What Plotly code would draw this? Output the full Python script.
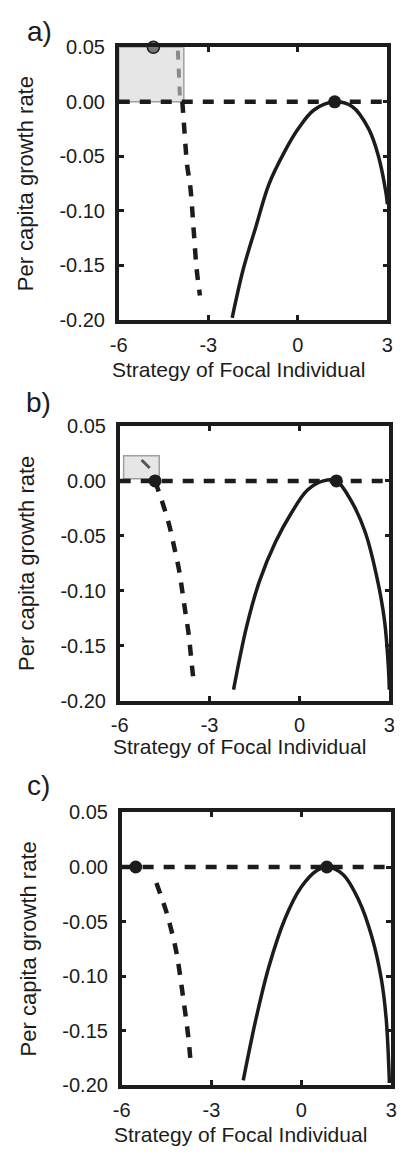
import plotly.graph_objects as go

# ---- data ----
x_range = [-6, 3]
y_range = [-0.20, 0.05]
x_ticks = [-6, -3, 0, 3]
y_ticks = [0.05, 0.0, -0.05, -0.10, -0.15, -0.20]
y_tick_text = ["0.05", "0.00", "-0.05", "-0.10", "-0.15", "-0.20"]
panel_labels = ["a)", "b)", "c)"]
x_title = "Strategy of Focal Individual"
y_title = "Per capita growth rate"

zero_x = [-6, 3]
zero_y = [0, 0]

a_solid_x = [-2.2, -1.83, -1.40, -0.97, -0.43, 0.0, 0.54, 1.235, 1.83, 2.37, 2.69, 2.96, 3.0]
a_solid_y = [-0.198, -0.1535, -0.114, -0.0756, -0.045, -0.0252, -0.0075, 0.0, -0.0045, -0.0246, -0.0487, -0.0846, -0.094]
a_edge_x = [-4.02, -4.0, -3.95]
a_edge_y = [0.047, 0.025, 0.004]
a_dash_x = [-3.87, -3.82, -3.71, -3.60, -3.49, -3.39, -3.28]
a_dash_y = [0.0, -0.0186, -0.0576, -0.0786, -0.1175, -0.1535, -0.1775]
a_mark_x = [1.235]
a_mark_y = [0.0]
a_gmark_x = [-4.84]
a_gmark_y = [0.05]
a_box = [-6, -3.82, 0.0, 0.05]

b_solid_x = [-2.2, -1.77, -1.34, -0.80, -0.27, 0.27, 0.80, 1.235, 1.77, 2.2, 2.57, 2.84, 2.97, 3.0]
b_solid_y = [-0.19, -0.1333, -0.0917, -0.0557, -0.0292, -0.0083, 0.0, 0.0, -0.0203, -0.047, -0.0857, -0.127, -0.17, -0.19]
b_dash_x = [-4.82, -4.55, -4.34, -4.18, -4.02, -3.91, -3.80, -3.70, -3.62, -3.54]
b_dash_y = [0.0, -0.0217, -0.041, -0.0604, -0.081, -0.1004, -0.121, -0.139, -0.16, -0.181]
b_mark_x = [-4.82, 1.235]
b_mark_y = [0.0, 0.0]
b_box = [-5.87, -4.68, 0.002, 0.023]
b_tick_x = [-5.27, -5.0]
b_tick_y = [0.019, 0.0117]

c_solid_x = [-1.94, -1.51, -1.08, -0.54, -0.01, 0.53, 0.85, 1.39, 1.92, 2.35, 2.67, 2.83, 2.94]
c_solid_y = [-0.1955, -0.1386, -0.091, -0.047, -0.0186, -0.003, 0.0, -0.0068, -0.0306, -0.0636, -0.1026, -0.1386, -0.198]
c_dash_x = [-4.84, -4.52, -4.34, -4.18, -4.06, -3.96, -3.86, -3.77, -3.70]
c_dash_y = [-0.0147, -0.04, -0.058, -0.077, -0.097, -0.117, -0.137, -0.157, -0.178]
c_mark_x = [-5.53, 0.85]
c_mark_y = [0.0, 0.0]

# ---- layout geometry (pixels) ----
W, H = 403, 1158
panels_px = [  # x0, x1, ytop, ybottom
    (114, 393, 37, 315),
    (115, 395, 423, 703),
    (117, 397, 817, 1095),
]
label_px = [(17, 21), (16, 399), (17, 790)]
xtitle_px = [(238, 365), (239, 750), (240, 1145)]

INK = "#1c1c1c"
FONT = "Liberation Sans, Arial, sans-serif"
DASH = "11px,10px"

fig = go.Figure()


def refs(i):
    return ("x" if i == 0 else f"x{i+1}"), ("y" if i == 0 else f"y{i+1}")


def add_panel(i, solid_x, solid_y, dash_x, dash_y, mark_x, mark_y):
    xa, ya = refs(i)
    fig.add_trace(go.Scatter(x=zero_x, y=zero_y, mode="lines", xaxis=xa, yaxis=ya,
                             line=dict(color=INK, width=4.5, dash=DASH),
                             showlegend=False, hoverinfo="skip"))
    fig.add_trace(go.Scatter(x=dash_x, y=dash_y, mode="lines", xaxis=xa, yaxis=ya,
                             line=dict(color=INK, width=4.5, dash=DASH, shape="spline"),
                             showlegend=False, hoverinfo="skip"))
    fig.add_trace(go.Scatter(x=solid_x, y=solid_y, mode="lines", xaxis=xa, yaxis=ya,
                             line=dict(color=INK, width=3.5, shape="spline", smoothing=1.0),
                             showlegend=False, hoverinfo="skip"))
    fig.add_trace(go.Scatter(x=mark_x, y=mark_y, mode="markers", xaxis=xa, yaxis=ya,
                             marker=dict(color=INK, size=13),
                             cliponaxis=False, showlegend=False, hoverinfo="skip"))


def add_box(i, box):
    xr, yr = refs(i)
    fig.add_shape(type="rect", xref=xr, yref=yr, x0=box[0], x1=box[1], y0=box[2], y1=box[3],
                  fillcolor="#e6e6e6", line=dict(color="#a0a0a0", width=1.5), layer="below")


add_box(0, a_box)
add_box(1, b_box)

fig.add_trace(go.Scatter(x=a_edge_x, y=a_edge_y, mode="lines", xaxis="x", yaxis="y",
                         line=dict(color="#8a8a8a", width=4, dash="9px,9px"),
                         showlegend=False, hoverinfo="skip"))
add_panel(0, a_solid_x, a_solid_y, a_dash_x, a_dash_y, a_mark_x, a_mark_y)
fig.add_trace(go.Scatter(x=a_gmark_x, y=a_gmark_y, mode="markers", xaxis="x", yaxis="y",
                         marker=dict(color="#777777", size=12, line=dict(color=INK, width=1.5)),
                         cliponaxis=False, showlegend=False, hoverinfo="skip"))
add_panel(1, b_solid_x, b_solid_y, b_dash_x, b_dash_y, b_mark_x, b_mark_y)
fig.add_trace(go.Scatter(x=b_tick_x, y=b_tick_y, mode="lines", xaxis="x2", yaxis="y2",
                         line=dict(color="#555555", width=3),
                         showlegend=False, hoverinfo="skip"))
add_panel(2, c_solid_x, c_solid_y, c_dash_x, c_dash_y, c_mark_x, c_mark_y)

layout = dict(
    width=W, height=H, margin=dict(l=0, r=0, t=0, b=0),
    paper_bgcolor="white", plot_bgcolor="white",
    font=dict(family=FONT, color=INK),
    showlegend=False,
)

annotations = []
for i, (x0, x1, yt, yb) in enumerate(panels_px):
    sfx = "" if i == 0 else str(i + 1)
    layout["xaxis" + sfx] = dict(
        domain=[x0 / W, x1 / W], range=x_range, anchor="y" + sfx,
        tickvals=x_ticks, ticktext=[str(v) for v in x_ticks],
        ticks="inside", ticklen=5, tickwidth=3, tickcolor=INK,
        showline=True, linewidth=3.5, linecolor=INK, mirror="ticks",
        showgrid=False, zeroline=False, ticklabelstandoff=4,
        tickfont=dict(size=20, family=FONT, color=INK),
    )
    layout["yaxis" + sfx] = dict(
        domain=[1 - yb / H, 1 - yt / H], range=y_range, anchor="x" + sfx,
        tickvals=y_ticks, ticktext=y_tick_text,
        ticks="inside", ticklen=5, tickwidth=3, tickcolor=INK,
        showline=True, linewidth=3.5, linecolor=INK, mirror="ticks",
        showgrid=False, zeroline=False, ticklabelstandoff=6,
        tickfont=dict(size=20, family=FONT, color=INK),
        title=dict(text=y_title, font=dict(size=22, family=FONT, color=INK), standoff=21),
    )
    lx, ly = label_px[i]
    annotations.append(dict(
        text=panel_labels[i], xref="paper", yref="paper",
        x=lx / W, y=1 - ly / H, xanchor="left", yanchor="middle",
        showarrow=False, font=dict(size=28, family=FONT, color=INK),
    ))
    tx, ty = xtitle_px[i]
    annotations.append(dict(
        text=x_title, xref="paper", yref="paper",
        x=tx / W, y=1 - ty / H, xanchor="center", yanchor="middle",
        showarrow=False, font=dict(size=21, family=FONT, color=INK),
    ))

layout["annotations"] = annotations
fig.update_layout(**layout)
fig.write_html("out.html")
